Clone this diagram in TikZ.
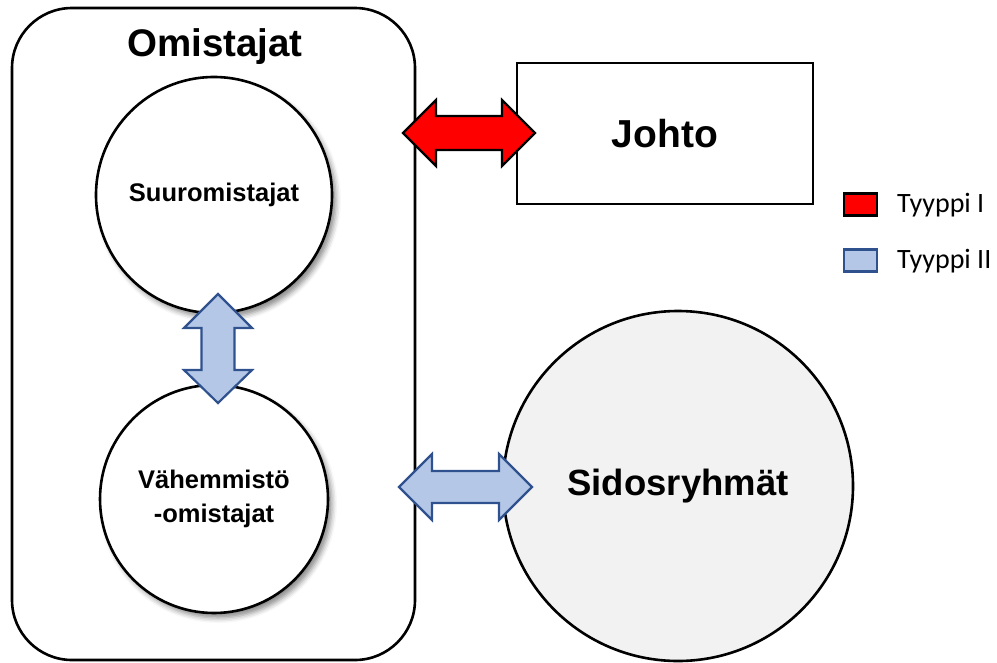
\documentclass[tikz,border=0pt]{standalone}
\usepackage{fontspec}
\setmainfont{Liberation Sans}
\newfontfamily\legendfont{Carlito}
\usetikzlibrary{shadows.blur}
\definecolor{blockblue}{HTML}{B4C7E7}
\definecolor{blockedge}{HTML}{2F528F}
\definecolor{paleface}{HTML}{F2F2F2}
\begin{document}
\begin{tikzpicture}[x=1pt,y=-1pt,
  frame/.style={draw=black,line width=2.6pt},
  owner/.style={frame,circle,fill=white,inner sep=0pt,
    blur shadow={shadow xshift=4pt,shadow yshift=-5pt,shadow blur radius=5pt,shadow opacity=45},
    font=\bfseries\fontsize{25.5}{34}\selectfont,align=center},
  redarrow/.style={draw=black,line width=2.2pt,fill=red,line join=miter},
  bluearrow/.style={draw=blockedge,line width=2.2pt,fill=blockblue,line join=miter},
  legendkey/.style={line width=2.2pt,minimum width=33pt,minimum height=22pt,inner sep=0pt},
  legendtext/.style={anchor=west,font=\legendfont\fontsize{28}{30}\selectfont,inner sep=0pt}]
\useasboundingbox (0,0) rectangle (997,662);

% owners' group
\node[frame,rectangle,rounded corners=60pt,minimum width=403pt,minimum height=652pt]
  (owners) at (213.5,334) {};
\node[font=\bfseries\fontsize{38.5}{40}\selectfont] (ownerstitle) at (215,47) {Omistajat};
\node[owner,minimum size=236pt] (major) at (214,195) {Suuromistajat};
\node[owner,minimum size=228pt] (minor) at (214,499) {Vähemmistö\\-omistajat};

% management and stakeholders
\node[frame,rectangle,minimum width=296pt,minimum height=141pt,
  font=\bfseries\fontsize{39}{42}\selectfont] (mgmt) at (665,133.5) {Johto};
\node[frame,circle,fill=paleface,minimum size=350pt,inner sep=0pt,
  font=\bfseries\fontsize{36.5}{40}\selectfont] (stake) at (678,486) {Sidosryhmät};

% Type I: owners <-> management
\draw[redarrow] (403,133) -- (436,100) -- (436,116) -- (502,116) -- (502,100)
  -- (535,133) -- (502,166) -- (502,150) -- (436,150) -- (436,166) -- cycle;

% Type II: major <-> minority owners
\draw[bluearrow] (218,294) -- (252,328) -- (234.5,328) -- (234.5,370) -- (252,370)
  -- (218,403) -- (184,370) -- (201.5,370) -- (201.5,328) -- (184,328) -- cycle;

% Type II: owners <-> stakeholders
\draw[bluearrow] (399,487) -- (432,454) -- (432,471) -- (499,471) -- (499,454)
  -- (532,487) -- (499,520) -- (499,503) -- (432,503) -- (432,520) -- cycle;

% legend
\node[legendkey,draw=black,fill=red] (keyone) at (860.5,204.5) {};
\node[legendtext] (keyonetext) at (897,205) {Tyyppi I};
\node[legendkey,draw=blockedge,fill=blockblue] (keytwo) at (860.5,260.5) {};
\node[legendtext] (keytwotext) at (897,261) {Tyyppi II};
\end{tikzpicture}
\end{document}
